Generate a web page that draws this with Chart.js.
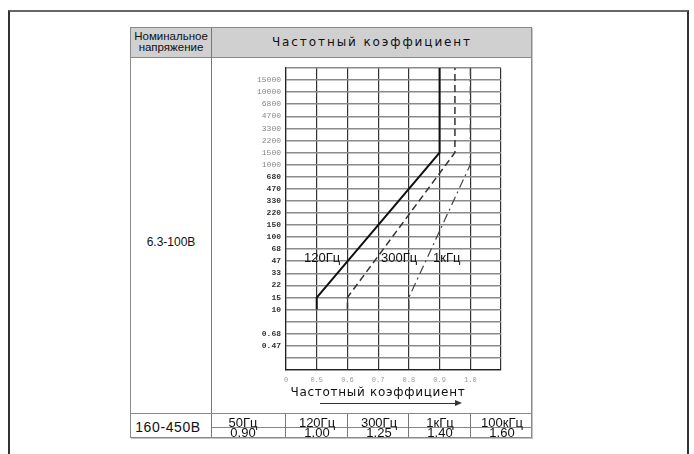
<!DOCTYPE html>
<html lang="ru">
<head>
  <meta charset="UTF-8" />
  <title>Частотный коэффициент</title>
  <script src="https://cdn.jsdelivr.net/npm/chart.js"></script>
  <style>
    html, body { margin: 0; padding: 0; background: #fff; }
    body { width: 694px; height: 454px; position: relative; overflow: hidden; font-family: "Liberation Sans", Arial, sans-serif; color: #111; }
    .abs { position: absolute; }
    .frame { left: 8px; top: 10px; width: 677px; height: 460px; border: 2px solid #333; border-top-color: #666; border-bottom: none; }
    .tbl { left: 130px; top: 27px; width: 402px; height: 411px; border: 1px solid #8a8a8a; box-sizing: border-box; box-shadow: 1px 1px 0 #c4c4c4; }
    .hdr { left: 131px; top: 28px; width: 400px; height: 29px; background: #d0d0d0; border-bottom: 1px solid #8a8a8a; }
    .vl { width: 1px; background: #777; }
    .hl { height: 1px; background: #888; }
    .t { white-space: nowrap; text-align: center; }
    .h1 { font-size: 11.5px; line-height: 11px; }
    .cap { font-family: "DejaVu Sans", sans-serif; font-size: 12px; line-height: 12px; letter-spacing: 1.9px; }
    .cell { font-size: 13px; line-height: 13px; width: 62px; }
    .lbl { font-size: 13px; line-height: 13px; }
  </style>
</head>
<body>
  <div class="abs frame"></div>
  <div class="abs tbl"></div>
  <div class="abs hdr"></div>

  <!-- table lines -->
  <div class="abs vl" style="left:211px; top:28px; height:409px;"></div>
  <div class="abs hl" style="left:131px; top:413px; width:400px;"></div>
  <div class="abs hl" style="left:212px; top:427px; width:319px;"></div>
  <div class="abs vl" style="left:285px; top:414px; height:23px;"></div>
  <div class="abs vl" style="left:347px; top:414px; height:23px;"></div>
  <div class="abs vl" style="left:408px; top:414px; height:23px;"></div>
  <div class="abs vl" style="left:470px; top:414px; height:23px;"></div>

  <!-- header texts -->
  <div class="abs t h1" style="left:131px; width:80px; top:31px;">Номинальное</div>
  <div class="abs t h1" style="left:131px; width:80px; top:42px;">напряжение</div>
  <div class="abs t cap" style="left:212px; width:320px; top:36px;">Частотный коэффициент</div>

  <div class="abs t" style="left:131px; width:80px; top:236px; font-size:12px; line-height:12px;">6.3-100В</div>
  <div class="abs t" style="left:131px; width:74px; top:420px; font-size:14px; line-height:14px; letter-spacing:0.6px;">160-450В</div>

  <canvas id="chart" class="abs" width="316" height="354" style="left:213px; top:58px;"></canvas>

  <!-- curve labels -->
  <div class="abs lbl" style="left:304px; top:251px;">120Гц</div>
  <div class="abs lbl" style="left:381px; top:251px;">300Гц</div>
  <div class="abs lbl" style="left:433px; top:251px;">1кГц</div>

  <!-- x axis title with arrow -->
  <div class="abs t" style="left:278px; width:200px; top:386px; font-family:'DejaVu Sans',sans-serif; font-size:12px; line-height:12px; letter-spacing:0.7px;">Частотный коэффициент</div>
  <div class="abs" style="left:320px; top:403px; width:136px; height:1px; background:#333;"></div>
  <div class="abs" style="left:455px; top:400px; width:0; height:0; border-left:7px solid #333; border-top:3.5px solid transparent; border-bottom:3.5px solid transparent;"></div>

  <!-- bottom row cells -->
  <div id="freqRow"></div>

  <script>
    // row labels of the y axis, top to bottom (blank rows are unlabeled grid rows)
    const yTickLabels = ['', '15000', '10000', '6800', '4700', '3300', '2200', '1500', '1000',
      '680', '470', '330', '220', '150', '100', '68', '47', '33', '22', '15', '10', '', '0.68', '0.47', '', ''];
    const boldFrom = '680';

    // x axis: the first column is cut ("0" .. "0.5")
    const xMin = 0.4, xMax = 1.1;
    const xTickLabels = ['0', '0.5', '0.6', '0.7', '0.8', '0.9', '1.0', ''];

    // curves: x = frequency coefficient, y = row label ('max' = top of the chart)
    const curve120x = [0.5, 0.5, 0.9, 0.9];
    const curve120y = ['10', '15', '1500', 'max'];
    const curve300x = [0.6, 0.6, 0.95, 0.95];
    const curve300y = ['10', '15', '1500', 'max'];
    const curve1kx = [0.8, 0.8, 1.0, 1.0];
    const curve1ky = ['10', '15', '1000', 'max'];

    // 160-450V table row
    const freqNames = ['50Гц', '120Гц', '300Гц', '1кГц', '100кГц'];
    const freqCoefs = ['0.90', '1.00', '1.25', '1.40', '1.60'];
    const cellLeft = [212, 286, 348, 409, 471];

    const row = document.getElementById('freqRow');
    freqNames.forEach((name, i) => {
      const a = document.createElement('div');
      a.className = 'abs t cell';
      a.style.left = cellLeft[i] + 'px';
      a.style.top = '416px';
      a.textContent = name;
      row.appendChild(a);
      const b = document.createElement('div');
      b.className = 'abs t cell';
      b.style.left = cellLeft[i] + 'px';
      b.style.top = '426px';
      b.textContent = freqCoefs[i];
      row.appendChild(b);
    });

    function rowOf(label) {
      return label === 'max' ? 0 : yTickLabels.indexOf(label);
    }
    function points(xs, ys) {
      return xs.map((x, i) => ({ x: x, y: rowOf(ys[i]) }));
    }

    const boldIndex = yTickLabels.indexOf(boldFrom);
    const isBold = (c) => c.tick && c.tick.value >= boldIndex;

    new Chart(document.getElementById('chart'), {
      type: 'line',
      data: {
        datasets: [
          { data: points(curve120x, curve120y), borderColor: '#111', borderWidth: 2 },
          { data: points(curve300x, curve300y), borderColor: '#333', borderWidth: 1.5, borderDash: [7, 4] },
          { data: points(curve1kx, curve1ky), borderColor: '#444', borderWidth: 1.2, borderDash: [9, 4, 2, 4] }
        ]
      },
      options: {
        responsive: false,
        animation: false,
        devicePixelRatio: 1,
        layout: { padding: { top: 10, right: 28, left: 0, bottom: 0 } },
        elements: { point: { radius: 0 }, line: { tension: 0 } },
        plugins: { legend: { display: false }, tooltip: { enabled: false } },
        scales: {
          x: {
            type: 'linear',
            min: xMin,
            max: xMax,
            afterFit: (axis) => { axis.height = 42; },
            border: { color: '#222', width: 1.2 },
            grid: { color: '#333', lineWidth: 1.2, drawTicks: false },
            ticks: {
              stepSize: 0.1,
              padding: 6,
              color: '#999',
              font: { family: 'Liberation Mono', size: 7 },
              callback: (v, i) => xTickLabels[i]
            }
          },
          y: {
            type: 'linear',
            min: 0,
            max: yTickLabels.length - 1,
            reverse: true,
            afterFit: (axis) => { axis.width = 73; },
            border: { color: '#222', width: 1.2 },
            grid: { color: '#8a8a8a', lineWidth: 1.6, drawTicks: false },
            ticks: {
              stepSize: 1,
              autoSkip: false,
              padding: 5,
              color: (c) => isBold(c) ? '#333' : '#888',
              font: (c) => ({ family: 'Liberation Mono', size: 8, weight: isBold(c) ? 'bold' : 'normal' }),
              callback: (v) => yTickLabels[v]
            }
          }
        }
      }
    });
  </script>
</body>
</html>
